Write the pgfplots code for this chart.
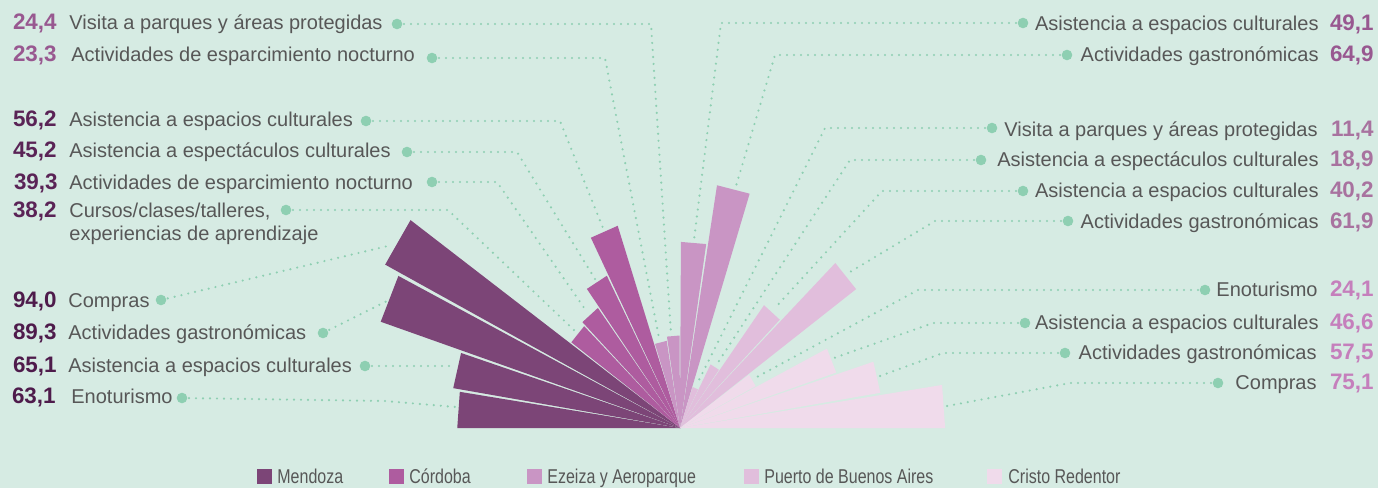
\documentclass[border=0pt]{standalone}
\usepackage{pgfplots}
\pgfplotsset{compat=1.18}
\usepackage{graphicx}
\usepackage{fontspec}
\setmainfont{Liberation Sans}

\definecolor{bg}{HTML}{D6EBE3}
\definecolor{cMen}{HTML}{7C4577}
\definecolor{cCor}{HTML}{AE5C9F}
\definecolor{cEze}{HTML}{C995C4}
\definecolor{cPue}{HTML}{E1BEDC}
\definecolor{cCri}{HTML}{F0DBEB}
\definecolor{lead}{HTML}{8ECFB2}
\definecolor{txt}{HTML}{575757}
\definecolor{nMen}{HTML}{4E1B4B}
\definecolor{nCor}{HTML}{5A2356}
\definecolor{nEze}{HTML}{985890}
\definecolor{nPue}{HTML}{A8729F}
\definecolor{nCri}{HTML}{C57FBC}

\newcommand{\numfont}{\fontsize{11.2}{13}\selectfont\bfseries}
\newcommand{\txtfont}{\fontsize{10}{12}\selectfont}
\newcommand{\legfont}{\fontsize{10}{12}\selectfont}

\pgfplotsset{
  leader/.style={color=lead, line width=1.2pt, line cap=round,
    dash pattern=on 0pt off 3.5pt, mark=*, mark indices={1}, mark size=2pt,
    mark options={solid, fill=lead, draw=none}},
  wedge/.style={fill=#1, draw=none, data cs=polar},
}

\begin{document}
\begin{tikzpicture}
\clip (0,0) rectangle (689pt,244pt);
\fill[bg] (0,0) rectangle (689pt,244pt);

% ---------- labels, leaders, legend (pixel frame) ----------
\begin{axis}[at={(0,0)}, anchor=south west, scale only axis,
  width=689pt, height=244pt, xmin=0, xmax=1378, ymin=0, ymax=488,
  y dir=reverse, hide axis, clip=false]
% leaders left
\addplot[leader] coordinates {(397,24) (651,24) (671,334)};
\addplot[leader] coordinates {(432,58) (605,58) (659,338)};
\addplot[leader] coordinates {(366,121) (560,121) (603,228)};
\addplot[leader] coordinates {(407,152) (517,152) (595,279)};
\addplot[leader] coordinates {(432,182) (497,182) (587,312)};
\addplot[leader] coordinates {(286,210) (448,210) (575,331)};
\addplot[leader] coordinates {(161,300) (392,245)};
\addplot[leader] coordinates {(323,333) (389,300)};
\addplot[leader] coordinates {(365,366) (455,366)};
\addplot[leader] coordinates {(182,398) (385,401) (456,407)};
% leaders right
\addplot[leader] coordinates {(1023,23) (721,23) (694,240)};
\addplot[leader] coordinates {(1067,55) (775,55) (736,186)};
\addplot[leader] coordinates {(992,128) (825,128) (697,384)};
\addplot[leader] coordinates {(981,160) (850,160) (717,364)};
\addplot[leader] coordinates {(1023,191) (882,191) (774,309)};
\addplot[leader] coordinates {(1068,221) (935,221) (850,272)};
\addplot[leader] coordinates {(1205,290) (918,290) (755,378)};
\addplot[leader] coordinates {(1025,323) (933,323) (834,358)};
\addplot[leader] coordinates {(1065,353) (943,353) (880,376)};
\addplot[leader] coordinates {(1218,383) (1070,383) (947,406)};

\begin{scope}[every node/.style={inner sep=0pt}]
% left labels
\node[anchor=base east, text=nEze, font=\numfont] at (axis cs:57,29.3) {24,4};
\node[anchor=base west, text=txt, font=\txtfont] at (axis cs:69,29.3) {Visita a parques y áreas protegidas};
\node[anchor=base east, text=nEze, font=\numfont] at (axis cs:57,61.7) {23,3};
\node[anchor=base west, text=txt, font=\txtfont] at (axis cs:71,61.7) {Actividades de esparcimiento nocturno};
\node[anchor=base east, text=nCor, font=\numfont] at (axis cs:57,126) {56,2};
\node[anchor=base west, text=txt, font=\txtfont] at (axis cs:69,126) {Asistencia a espacios culturales};
\node[anchor=base east, text=nCor, font=\numfont] at (axis cs:57,157.7) {45,2};
\node[anchor=base west, text=txt, font=\txtfont] at (axis cs:69,157.7) {Asistencia a espectáculos culturales};
\node[anchor=base east, text=nCor, font=\numfont] at (axis cs:58,189) {39,3};
\node[anchor=base west, text=txt, font=\txtfont] at (axis cs:69,189) {Actividades de esparcimiento nocturno};
\node[anchor=base east, text=nCor, font=\numfont] at (axis cs:57,217.7) {38,2};
\node[anchor=base west, text=txt, font=\txtfont] at (axis cs:69,217.7) {Cursos/clases/talleres,};
\node[anchor=base west, text=txt, font=\txtfont] at (axis cs:69,240.7) {experiencias de aprendizaje};
\node[anchor=base east, text=nMen, font=\numfont] at (axis cs:57,307.3) {94,0};
\node[anchor=base west, text=txt, font=\txtfont] at (axis cs:68,307.3) {Compras};
\node[anchor=base east, text=nMen, font=\numfont] at (axis cs:57,339.3) {89,3};
\node[anchor=base west, text=txt, font=\txtfont] at (axis cs:68,339.3) {Actividades gastronómicas};
\node[anchor=base east, text=nMen, font=\numfont] at (axis cs:57,372.3) {65,1};
\node[anchor=base west, text=txt, font=\txtfont] at (axis cs:68,372.3) {Asistencia a espacios culturales};
\node[anchor=base east, text=nMen, font=\numfont] at (axis cs:56,403.3) {63,1};
\node[anchor=base west, text=txt, font=\txtfont] at (axis cs:71,403.3) {Enoturismo};
% right labels
\node[anchor=base east, text=txt, font=\txtfont] at (axis cs:1319,30.7) {Asistencia a espacios culturales};
\node[anchor=base east, text=nEze, font=\numfont] at (axis cs:1374,30.7) {49,1};
\node[anchor=base east, text=txt, font=\txtfont] at (axis cs:1319,61.7) {Actividades gastronómicas};
\node[anchor=base east, text=nEze, font=\numfont] at (axis cs:1374,61.7) {64,9};
\node[anchor=base east, text=txt, font=\txtfont] at (axis cs:1318,136) {Visita a parques y áreas protegidas};
\node[anchor=base east, text=nPue, font=\numfont] at (axis cs:1374,136) {11,4};
\node[anchor=base east, text=txt, font=\txtfont] at (axis cs:1319,166.7) {Asistencia a espectáculos culturales};
\node[anchor=base east, text=nPue, font=\numfont] at (axis cs:1374,166.7) {18,9};
\node[anchor=base east, text=txt, font=\txtfont] at (axis cs:1319,197.7) {Asistencia a espacios culturales};
\node[anchor=base east, text=nPue, font=\numfont] at (axis cs:1374,197.7) {40,2};
\node[anchor=base east, text=txt, font=\txtfont] at (axis cs:1319,228.3) {Actividades gastronómicas};
\node[anchor=base east, text=nPue, font=\numfont] at (axis cs:1374,228.3) {61,9};
\node[anchor=base east, text=txt, font=\txtfont] at (axis cs:1318,296) {Enoturismo};
\node[anchor=base east, text=nCri, font=\numfont] at (axis cs:1374,296) {24,1};
\node[anchor=base east, text=txt, font=\txtfont] at (axis cs:1319,329.3) {Asistencia a espacios culturales};
\node[anchor=base east, text=nCri, font=\numfont] at (axis cs:1374,329.3) {46,6};
\node[anchor=base east, text=txt, font=\txtfont] at (axis cs:1317,359.3) {Actividades gastronómicas};
\node[anchor=base east, text=nCri, font=\numfont] at (axis cs:1374,359.3) {57,5};
\node[anchor=base east, text=txt, font=\txtfont] at (axis cs:1317,389.3) {Compras};
\node[anchor=base east, text=nCri, font=\numfont] at (axis cs:1374,389.3) {75,1};
% legend
\fill[cMen] (axis cs:257,469) rectangle (axis cs:272,484);
\node[anchor=base west, text=txt, font=\legfont] at (axis cs:277,483.5) {\scalebox{0.8}[1]{Mendoza}};
\fill[cCor] (axis cs:389,469) rectangle (axis cs:404,484);
\node[anchor=base west, text=txt, font=\legfont] at (axis cs:409,483.5) {\scalebox{0.8}[1]{Córdoba}};
\fill[cEze] (axis cs:527,469) rectangle (axis cs:542,484);
\node[anchor=base west, text=txt, font=\legfont] at (axis cs:547,483.5) {\scalebox{0.8}[1]{Ezeiza y Aeroparque}};
\fill[cPue] (axis cs:744,469) rectangle (axis cs:759,484);
\node[anchor=base west, text=txt, font=\legfont] at (axis cs:764,483.5) {\scalebox{0.8}[1]{Puerto de Buenos Aires}};
\fill[cCri] (axis cs:987,469) rectangle (axis cs:1002,484);
\node[anchor=base west, text=txt, font=\legfont] at (axis cs:1008,483.5) {\scalebox{0.8}[1]{Cristo Redentor}};
\end{scope}
\end{axis}

% ---------- radial bars: (angle, value); each category has a 9 degree slot ----------
\begin{axis}[at={(0,0)}, anchor=south west, scale only axis,
  width=689pt, height=244pt, xmin=-192.63, xmax=197.73, ymin=-15.83, ymax=112.93,
  hide axis, clip=false]
% Mendoza
\addplot[wedge=cMen] coordinates {(0,0) (171.3,63.1) (180,63.1)} -- cycle;
\addplot[wedge=cMen] coordinates {(0,0) (162.3,65.1) (170.7,65.1)} -- cycle;
\addplot[wedge=cMen] coordinates {(0,0) (153.3,89.3) (161.7,89.3)} -- cycle;
\addplot[wedge=cMen] coordinates {(0,0) (144.3,94.0) (152.7,94.0)} -- cycle;
% Cordoba
\addplot[wedge=cCor] coordinates {(0,0) (135.3,38.2) (143.7,38.2)} -- cycle;
\addplot[wedge=cCor] coordinates {(0,0) (126.3,39.3) (134.7,39.3)} -- cycle;
\addplot[wedge=cCor] coordinates {(0,0) (117.3,45.2) (125.7,45.2)} -- cycle;
\addplot[wedge=cCor] coordinates {(0,0) (108.3,56.2) (116.7,56.2)} -- cycle;
% Ezeiza y Aeroparque
\addplot[wedge=cEze] coordinates {(0,0) (99.3,23.3) (107.7,23.3)} -- cycle;
\addplot[wedge=cEze] coordinates {(0,0) (90.3,24.4) (98.7,24.4)} -- cycle;
\addplot[wedge=cEze] coordinates {(0,0) (81.3,49.1) (89.7,49.1)} -- cycle;
\addplot[wedge=cEze] coordinates {(0,0) (72.3,64.9) (80.7,64.9)} -- cycle;
% Puerto de Buenos Aires
\addplot[wedge=cPue] coordinates {(0,0) (63.3,11.4) (71.7,11.4)} -- cycle;
\addplot[wedge=cPue] coordinates {(0,0) (54.3,18.9) (62.7,18.9)} -- cycle;
\addplot[wedge=cPue] coordinates {(0,0) (45.3,40.2) (53.7,40.2)} -- cycle;
\addplot[wedge=cPue] coordinates {(0,0) (36.3,61.9) (44.7,61.9)} -- cycle;
% Cristo Redentor
\addplot[wedge=cCri] coordinates {(0,0) (27.3,24.1) (35.7,24.1)} -- cycle;
\addplot[wedge=cCri] coordinates {(0,0) (18.3,46.6) (26.7,46.6)} -- cycle;
\addplot[wedge=cCri] coordinates {(0,0) (9.3,57.5) (17.7,57.5)} -- cycle;
\addplot[wedge=cCri] coordinates {(0,0) (0,75.1) (8.7,75.1)} -- cycle;
\end{axis}
\end{tikzpicture}
\end{document}
